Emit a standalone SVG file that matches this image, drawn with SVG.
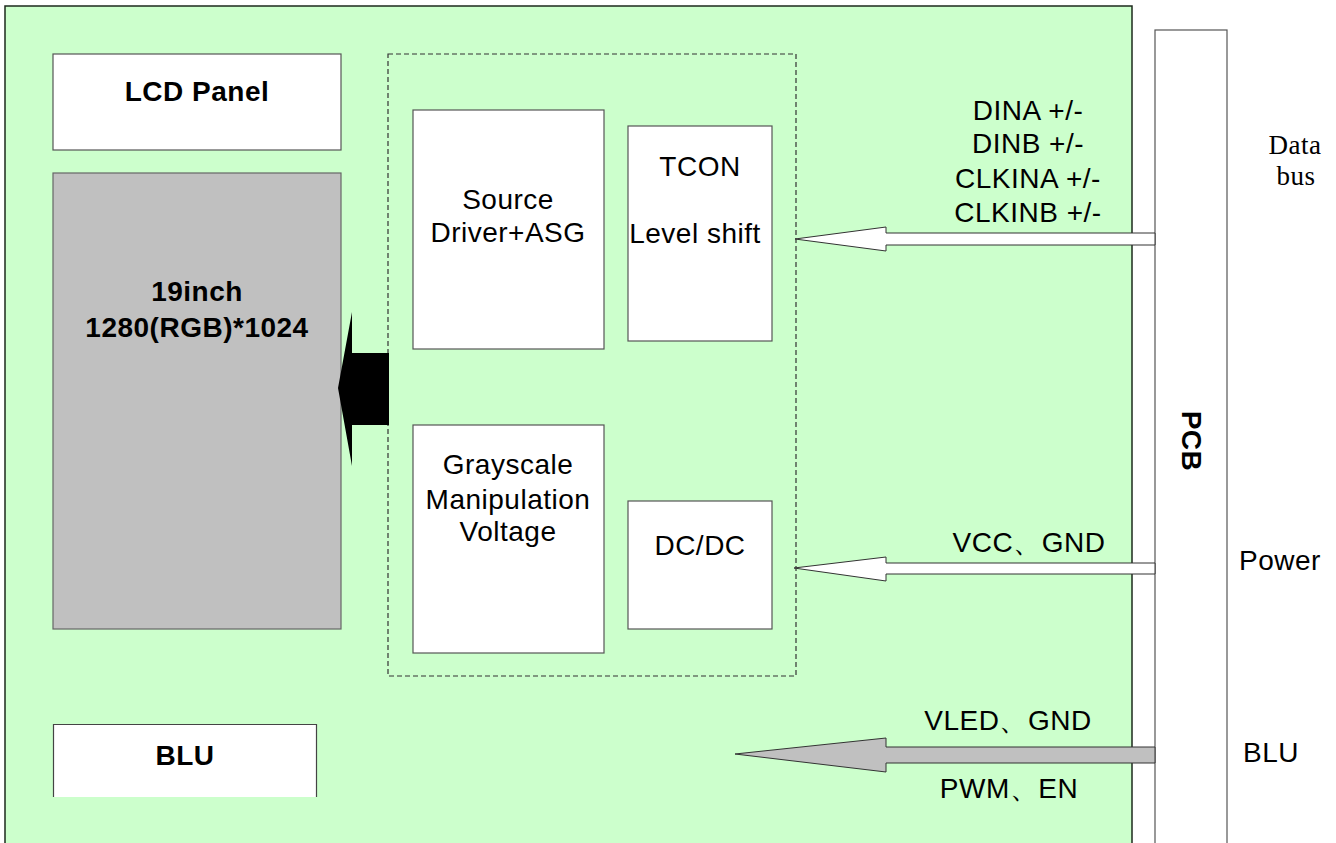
<svg xmlns="http://www.w3.org/2000/svg" width="1336" height="843" viewBox="0 0 1336 843">
  <defs>
    <style>
      .sans { font-family: "Liberation Sans", Arial, sans-serif; font-size: 28px; letter-spacing: 0.5px; fill: #000; }
      .bold { font-weight: bold; }
      .serif { font-family: "Liberation Serif", "Times New Roman", serif; font-size: 27px; letter-spacing: 0.5px; fill: #000; }
      .box { fill: #fff; stroke: #555; stroke-width: 1.2; }
      .mid { text-anchor: middle; }
      .arrow { stroke: #333; stroke-width: 1; }
    </style>
  </defs>

  <rect width="1336" height="843" fill="#fff"/>

  <!-- module outline -->
  <g id="module">
    <rect x="5" y="6" width="1127" height="850" fill="#CCFFCC" stroke="#1c2a1c" stroke-width="1.5"/>
  </g>

  <!-- panel side -->
  <g id="lcd-panel">
    <rect class="box" x="53" y="54" width="288" height="96"/>
    <text class="sans bold mid" x="197" y="101">LCD Panel</text>
  </g>

  <g id="display-area">
    <rect x="53" y="173" width="288" height="456" fill="#C0C0C0" stroke="#666" stroke-width="1.2"/>
    <text class="sans bold mid" x="197" y="301">19inch</text>
    <text class="sans bold mid" x="197" y="337">1280(RGB)*1024</text>
  </g>

  <g id="blu">
    <rect x="53" y="724" width="264" height="73" fill="#fff"/>
    <path d="M53.5 797 V724.5 H316.5 V797" fill="none" stroke="#444" stroke-width="1.2"/>
    <text class="sans bold mid" x="185" y="765">BLU</text>
  </g>

  <!-- driver electronics -->
  <g id="driver-group">
    <rect x="388" y="54" width="408" height="622" fill="none" stroke="#333" stroke-width="1.2" stroke-dasharray="5,3"/>
  </g>

  <g id="source-driver">
    <rect class="box" x="413" y="110" width="191" height="239"/>
    <text class="sans mid" x="508" y="209">Source</text>
    <text class="sans mid" x="508" y="242">Driver+ASG</text>
  </g>

  <g id="tcon">
    <rect class="box" x="628" y="126" width="144" height="215"/>
    <text class="sans mid" x="700" y="176">TCON</text>
    <text class="sans mid" x="695" y="243">Level shift</text>
  </g>

  <g id="grayscale">
    <rect class="box" x="413" y="425" width="191" height="228"/>
    <text class="sans mid" x="508" y="474">Grayscale</text>
    <text class="sans mid" x="508" y="509">Manipulation</text>
    <text class="sans mid" x="508" y="541">Voltage</text>
  </g>

  <g id="dcdc">
    <rect class="box" x="628" y="501" width="144" height="128"/>
    <text class="sans mid" x="700" y="555">DC/DC</text>
  </g>

  <!-- interface board -->
  <g id="pcb">
    <rect x="1155" y="30" width="72" height="830" fill="#fff" stroke="#555" stroke-width="1.2"/>
    <text class="sans bold mid" transform="translate(1182,441) rotate(90)">PCB</text>
  </g>

  <!-- signal arrows -->
  <g id="connectors">
    <polygon points="338,388 352,312 352,353 389,353 389,425 352,425 352,466" fill="#000"/>
    <polygon class="arrow" points="795,239 886,227 886,233 1155,233 1155,245 886,245 886,251" fill="#fff"/>
    <polygon class="arrow" points="794,568 886,557 886,563 1155,563 1155,574 886,574 886,581" fill="#fff"/>
    <polygon class="arrow" points="735,754 886,738 886,747 1155,747 1155,763 886,763 886,772" fill="#C0C0C0"/>
  </g>

  <g id="signal-labels">
    <text class="sans mid" x="1028" y="120">DINA +/-</text>
    <text class="sans mid" x="1028" y="153">DINB +/-</text>
    <text class="sans mid" x="1028" y="188">CLKINA +/-</text>
    <text class="sans mid" x="1028" y="222">CLKINB +/-</text>
    <text class="sans mid" x="1029" y="552">VCC、GND</text>
    <text class="sans mid" x="1008" y="730">VLED、GND</text>
    <text class="sans mid" x="1009" y="798">PWM、EN</text>
  </g>

  <g id="side-labels">
    <text class="serif mid" x="1295" y="154">Data</text>
    <text class="serif mid" x="1296" y="185">bus</text>
    <text class="sans" x="1239" y="570">Power</text>
    <text class="sans" x="1243" y="762">BLU</text>
  </g>
</svg>
